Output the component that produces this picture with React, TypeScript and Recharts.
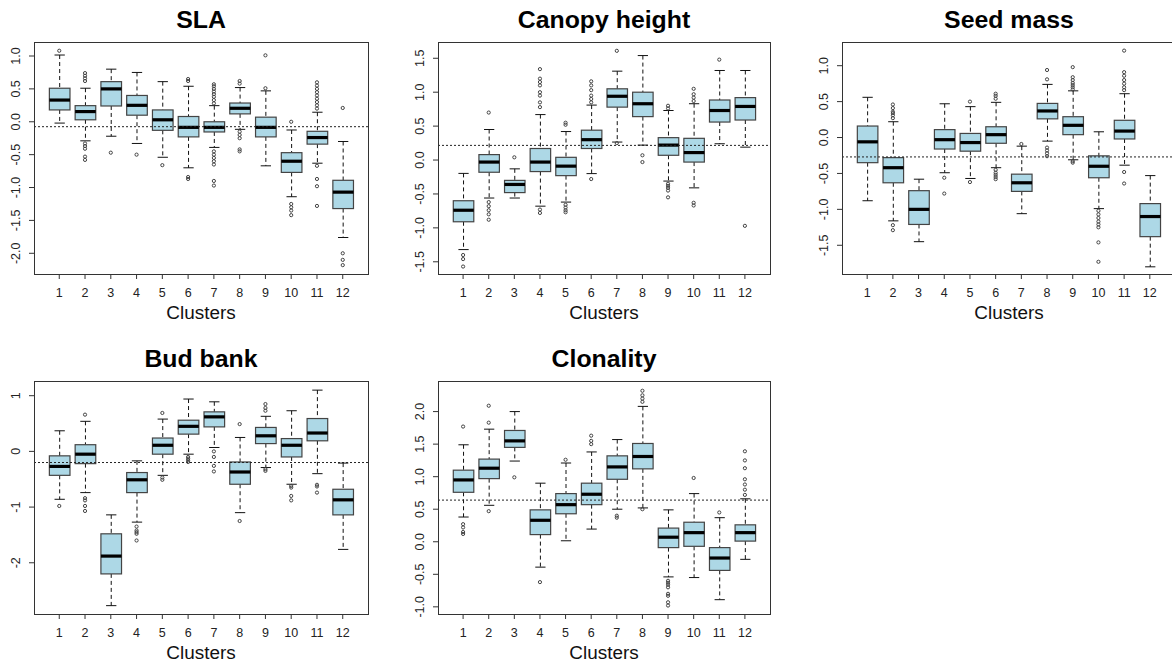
import { ComposedChart, Bar, Scatter, XAxis, YAxis, ReferenceLine } from "recharts";

const clusters = ["1", "2", "3", "4", "5", "6", "7", "8", "9", "10", "11", "12"];

// [lower whisker, q1, median, q3, upper whisker] per cluster
const slaBoxes = [
  [-0.02, 0.18, 0.33, 0.51, 1.015], [-0.29, 0.03, 0.155, 0.245, 0.51], [-0.22, 0.24, 0.5, 0.61, 0.8],
  [-0.33, 0.1, 0.25, 0.4, 0.75], [-0.54, -0.13, 0.03, 0.18, 0.61], [-0.7, -0.23, -0.085, 0.08, 0.54],
  [-0.39, -0.155, -0.085, 0.0, 0.245], [-0.115, 0.12, 0.205, 0.285, 0.52], [-0.67, -0.23, -0.085, 0.07, 0.47],
  [-1.14, -0.77, -0.6, -0.47, -0.125], [-0.63, -0.34, -0.24, -0.145, 0.145], [-1.76, -1.32, -1.07, -0.89, -0.3],
];
const slaOutliers = [
  [1, 1.08], [2, 0.62], [2, 0.66], [2, 0.7], [2, 0.74], [2, -0.33], [2, -0.37], [2, -0.41], [2, -0.53], [2, -0.58],
  [3, -0.47], [4, -0.5], [5, -0.66], [6, 0.62], [6, 0.65], [6, -0.84], [6, -0.87],
  [7, 0.28], [7, 0.33], [7, 0.38], [7, 0.42], [7, 0.46], [7, 0.5], [7, 0.54], [7, 0.57],
  [7, -0.45], [7, -0.5], [7, -0.55], [7, -0.6], [7, -0.65], [7, -0.9], [7, -0.97],
  [8, 0.58], [8, 0.62], [8, -0.15], [8, -0.2], [8, -0.25], [8, -0.42], [8, -0.45],
  [9, 1.01], [9, 0.51], [10, 0.0], [10, -1.25], [10, -1.3], [10, -1.35], [10, -1.42],
  [11, 0.2], [11, 0.25], [11, 0.3], [11, 0.35], [11, 0.4], [11, 0.45], [11, 0.5], [11, 0.55], [11, 0.6],
  [11, -0.67], [11, -0.87], [11, -0.98], [11, -1.28], [12, 0.21], [12, -2.0], [12, -2.1], [12, -2.18],
];
const slaMean = -0.075;
const slaTicks = [-2, -1.5, -1, -0.5, 0, 0.5, 1];

const canopyBoxes = [
  [-1.32, -0.91, -0.74, -0.6, -0.197], [-0.56, -0.18, -0.03, 0.08, 0.45], [-0.56, -0.48, -0.36, -0.3, -0.13],
  [-0.68, -0.17, -0.03, 0.17, 0.67], [-0.62, -0.23, -0.09, 0.04, 0.42], [-0.2, 0.17, 0.3, 0.44, 0.81],
  [0.265, 0.78, 0.94, 1.05, 1.31], [0.22, 0.64, 0.83, 1.0, 1.54], [-0.31, 0.07, 0.22, 0.33, 0.73],
  [-0.41, -0.03, 0.11, 0.32, 0.83], [0.24, 0.56, 0.73, 0.885, 1.32], [0.19, 0.59, 0.79, 0.92, 1.32],
];
const canopyOutliers = [
  [1, -1.4], [1, -1.46], [1, -1.57], [2, 0.7], [2, -0.62], [2, -0.68], [2, -0.74], [2, -0.8], [2, -0.88],
  [3, 0.04], [4, 0.78], [4, 0.85], [4, 0.95], [4, 1.0], [4, 1.1], [4, 1.15], [4, 1.2], [4, 1.34], [4, -0.73], [4, -0.78],
  [5, 0.52], [5, 0.55], [5, -0.66], [5, -0.7], [5, -0.74], [5, -0.77],
  [6, 0.85], [6, 0.9], [6, 0.95], [6, 1.03], [6, 1.1], [6, 1.16], [6, -0.28], [7, 1.61], [7, 0.25],
  [8, 0.07], [8, -0.03], [9, 0.76], [9, 0.8], [9, -0.35], [9, -0.38], [9, -0.41], [9, -0.45], [9, -0.55],
  [10, 0.87], [10, 0.92], [10, 0.97], [10, 1.05], [10, -0.63], [10, -0.67], [11, 1.48], [12, -0.97],
];
const canopyMean = 0.216;
const canopyTicks = [-1.5, -1, -0.5, 0, 0.5, 1, 1.5];

const seedBoxes = [
  [-0.88, -0.35, -0.06, 0.16, 0.56], [-1.16, -0.63, -0.42, -0.28, 0.22], [-1.45, -1.21, -1.0, -0.74, -0.58],
  [-0.49, -0.16, -0.03, 0.11, 0.47], [-0.57, -0.19, -0.07, 0.057, 0.43], [-0.42, -0.08, 0.04, 0.15, 0.49],
  [-1.06, -0.75, -0.63, -0.51, -0.12], [-0.05, 0.26, 0.37, 0.475, 0.74], [-0.31, 0.04, 0.17, 0.29, 0.65],
  [-0.99, -0.56, -0.4, -0.255, 0.08], [-0.385, -0.02, 0.09, 0.24, 0.61], [-1.8, -1.38, -1.1, -0.92, -0.53],
];
const seedOutliers = [
  [2, 0.27], [2, 0.31], [2, 0.34], [2, 0.36], [2, 0.41], [2, 0.46], [2, -1.22], [2, -1.29],
  [4, -0.56], [4, -0.78], [5, 0.5], [5, -0.62], [6, 0.54], [6, 0.58], [6, 0.61],
  [6, -0.45], [6, -0.49], [6, -0.52], [6, -0.55], [6, -0.58], [7, -0.09],
  [8, 0.94], [8, 0.81], [8, -0.14], [8, -0.18], [8, -0.22], [8, -0.26],
  [9, 0.67], [9, 0.7], [9, 0.73], [9, 0.76], [9, 0.8], [9, 0.84], [9, 0.98], [9, -0.33], [9, -0.35],
  [10, -1.02], [10, -1.07], [10, -1.12], [10, -1.17], [10, -1.21], [10, -1.25], [10, -1.46], [10, -1.73],
  [11, 0.66], [11, 0.7], [11, 0.75], [11, 0.8], [11, 0.86], [11, 0.91], [11, 1.21], [11, -0.48], [11, -0.64],
];
const seedMean = -0.27;
const seedTicks = [-1.5, -1, -0.5, 0, 0.5, 1];

const budBoxes = [
  [-0.86, -0.43, -0.27, -0.08, 0.37], [-0.74, -0.22, -0.05, 0.12, 0.54], [-2.77, -2.2, -1.88, -1.48, -1.14],
  [-1.27, -0.74, -0.51, -0.38, -0.17], [-0.43, -0.05, 0.11, 0.24, 0.58], [-0.05, 0.31, 0.45, 0.56, 0.94],
  [0.07, 0.44, 0.62, 0.71, 0.89], [-1.1, -0.59, -0.37, -0.19, 0.25], [-0.29, 0.14, 0.28, 0.43, 0.63],
  [-0.59, -0.1, 0.11, 0.23, 0.73], [-0.4, 0.19, 0.33, 0.59, 1.1], [-1.76, -1.14, -0.87, -0.68, -0.21],
];
const budOutliers = [
  [1, -0.98], [2, 0.66], [2, -0.84], [2, -0.88], [2, -0.98], [2, -1.07],
  [4, -1.35], [4, -1.42], [4, -1.45], [4, -1.48], [4, -1.6], [5, 0.69], [5, -0.47], [5, -0.51],
  [6, -0.1], [6, -0.13], [6, -0.16], [6, -0.19], [7, 0.0], [7, -0.1], [7, -0.26], [7, -0.36],
  [8, 0.49], [8, -1.25], [9, 0.73], [9, 0.78], [9, 0.85], [9, -0.32], [9, -0.35],
  [10, -0.62], [10, -0.65], [10, -0.8], [10, -0.88], [11, -0.6], [11, -0.63], [11, -0.74],
];
const budMean = -0.2;
const budTicks = [-2, -1, 0, 1];

const cloneBoxes = [
  [0.38, 0.76, 0.95, 1.1, 1.49], [0.56, 0.97, 1.13, 1.27, 1.73], [1.24, 1.45, 1.55, 1.71, 2.0],
  [-0.39, 0.11, 0.33, 0.49, 0.9], [0.015, 0.43, 0.57, 0.74, 1.21], [0.195, 0.57, 0.73, 0.9, 1.38],
  [0.5, 0.96, 1.15, 1.32, 1.57], [0.52, 1.12, 1.31, 1.51, 2.08], [-0.54, -0.09, 0.07, 0.21, 0.49],
  [-0.55, -0.07, 0.14, 0.3, 0.74], [-0.89, -0.44, -0.25, -0.09, 0.37], [-0.27, 0.01, 0.14, 0.26, 0.66],
];
const cloneOutliers = [
  [1, 1.77], [1, 0.27], [1, 0.22], [1, 0.15], [1, 0.12], [2, 1.83], [2, 2.09], [2, 0.47], [3, 0.99],
  [4, -0.62], [5, 1.26], [6, 1.5], [6, 1.55], [6, 1.63], [7, 0.37], [7, 0.4],
  [8, 2.15], [8, 2.2], [8, 2.25], [8, 2.32], [8, 0.5],
  [9, -0.6], [9, -0.63], [9, -0.66], [9, -0.7], [9, -0.8], [9, -0.83], [9, -0.93], [9, -0.98],
  [10, 0.98], [11, 0.45], [12, 0.72], [12, 0.8], [12, 0.88], [12, 0.96], [12, 1.13], [12, 1.25], [12, 1.39],
];
const cloneMean = 0.64;
const cloneTicks = [-1, -0.5, 0, 0.5, 1, 1.5, 2];

const FONT = "'Liberation Sans', Arial, sans-serif";
const Y_W = 34;
const M_TOP = 10;
const M_RIGHT = 10;
const X_H = 30;

function BoxShape(props: any) {
  const { x, y, width, height, payload } = props;
  if (!payload) return null;
  const [lo, q1, med, q3, hi] = payload.stats;
  const top = Math.min(y, y + height);
  const bot = Math.max(y, y + height);
  const py = (v: number) => top + ((hi - v) / (hi - lo)) * (bot - top);
  const cx = x + width / 2;
  const cap = width / 4;
  return (
    <g>
      <line x1={cx} x2={cx} y1={py(hi)} y2={py(q3)} stroke="#111" strokeDasharray="4 3" />
      <line x1={cx} x2={cx} y1={py(q1)} y2={py(lo)} stroke="#111" strokeDasharray="4 3" />
      <line x1={cx - cap} x2={cx + cap} y1={py(hi)} y2={py(hi)} stroke="#111" />
      <line x1={cx - cap} x2={cx + cap} y1={py(lo)} y2={py(lo)} stroke="#111" />
      <rect x={x} y={py(q3)} width={width} height={py(q1) - py(q3)} fill="#ADD8E6" stroke="#444" strokeWidth={1.2} />
      <line x1={x} x2={x + width} y1={py(med)} y2={py(med)} stroke="#000" strokeWidth={3.2} />
    </g>
  );
}

function Dot(props: any) {
  const { cx, cy } = props;
  if (cx == null || cy == null) return null;
  return <circle cx={cx} cy={cy} r={1.6} fill="none" stroke="#444" strokeWidth={1} />;
}

function Panel({ title, boxes, outliers, mean, ticks, domain, decimals, left, top, pw, ph }: any) {
  const data = clusters.map((c, i) => ({ c, range: [boxes[i][0], boxes[i][4]], stats: boxes[i] }));
  const outs = outliers.map(([c, v]: number[]) => ({ c: String(c), v }));
  const unit = pw / 12.96;
  const pad = unit * 0.48;
  const chartLeft = left - Y_W;
  const chartTop = top - M_TOP;
  const yTick = ({ x, y, payload }: any) => (
    <text
      x={x - 11}
      y={y}
      transform={`rotate(-90 ${x - 11} ${y})`}
      textAnchor="middle"
      dominantBaseline="central"
      fontSize={12.5}
      fontFamily={FONT}
      fill="#222"
    >
      {Number(payload.value).toFixed(decimals)}
    </text>
  );
  return (
    <>
      <div
        style={{
          position: "absolute",
          left: left + pw / 2 - 150,
          width: 300,
          top: top - 22 - 15,
          lineHeight: "30px",
          textAlign: "center",
          fontFamily: FONT,
          fontWeight: "bold",
          fontSize: 23,
          color: "#000",
          transform: "scaleX(1.08)",
        }}
      >
        {title}
      </div>
      <div style={{ position: "absolute", left: chartLeft, top: chartTop }}>
        <ComposedChart
          width={Y_W + pw + M_RIGHT}
          height={M_TOP + ph + X_H}
          data={data}
          margin={{ top: M_TOP, right: M_RIGHT, left: 0, bottom: 0 }}
        >
          <XAxis
            dataKey="c"
            type="category"
            allowDuplicatedCategory={false}
            interval={0}
            padding={{ left: pad, right: pad }}
            height={X_H}
            axisLine={false}
            tickLine={{ stroke: "#333" }}
            tickSize={5}
            tickMargin={9}
            tick={{ fontSize: 12.5, fontFamily: FONT, fill: "#222" }}
          />
          <YAxis
            type="number"
            domain={domain}
            allowDataOverflow
            ticks={ticks}
            width={Y_W}
            axisLine={false}
            tickLine={{ stroke: "#333" }}
            tickSize={5}
            tick={yTick}
          />
          <ReferenceLine y={mean} stroke="#222" strokeDasharray="2 2" />
          <Bar dataKey="range" barSize={unit * 0.8} shape={BoxShape} isAnimationActive={false} />
          <Scatter data={outs} dataKey="v" shape={Dot} isAnimationActive={false} />
        </ComposedChart>
      </div>
      <div
        style={{
          position: "absolute",
          left,
          top,
          width: pw + 1,
          height: ph + 1,
          border: "1px solid #333",
          boxSizing: "border-box",
          pointerEvents: "none",
        }}
      />
      <div
        style={{
          position: "absolute",
          left: left + pw / 2 - 100,
          width: 200,
          top: top + ph + 39 - 12,
          lineHeight: "24px",
          textAlign: "center",
          fontFamily: FONT,
          fontSize: 17.5,
          color: "#111",
          transform: "scaleX(1.08)",
        }}
      >
        Clusters
      </div>
    </>
  );
}

export default function App() {
  return (
    <div
      style={{
        position: "absolute",
        left: 0,
        top: 0,
        width: 1172,
        height: 669,
        overflow: "hidden",
        background: "#fff",
      }}
    >
      <Panel title="SLA" boxes={slaBoxes} outliers={slaOutliers} mean={slaMean} ticks={slaTicks}
        domain={[-2.315, 1.213]} decimals={1} left={34} top={42} pw={334} ph={232} />
      <Panel title="Canopy height" boxes={canopyBoxes} outliers={canopyOutliers} mean={canopyMean} ticks={canopyTicks}
        domain={[-1.68, 1.74]} decimals={1} left={438} top={42} pw={332} ph={232} />
      <Panel title="Seed mass" boxes={seedBoxes} outliers={seedOutliers} mean={seedMean} ticks={seedTicks}
        domain={[-1.9, 1.33]} decimals={1} left={842} top={42} pw={333} ph={232} />
      <Panel title="Bud bank" boxes={budBoxes} outliers={budOutliers} mean={budMean} ticks={budTicks}
        domain={[-2.92, 1.264]} decimals={0} left={34} top={381} pw={334} ph={233} />
      <Panel title="Clonality" boxes={cloneBoxes} outliers={cloneOutliers} mean={cloneMean} ticks={cloneTicks}
        domain={[-1.11, 2.47]} decimals={1} left={438} top={381} pw={332} ph={233} />
    </div>
  );
}
